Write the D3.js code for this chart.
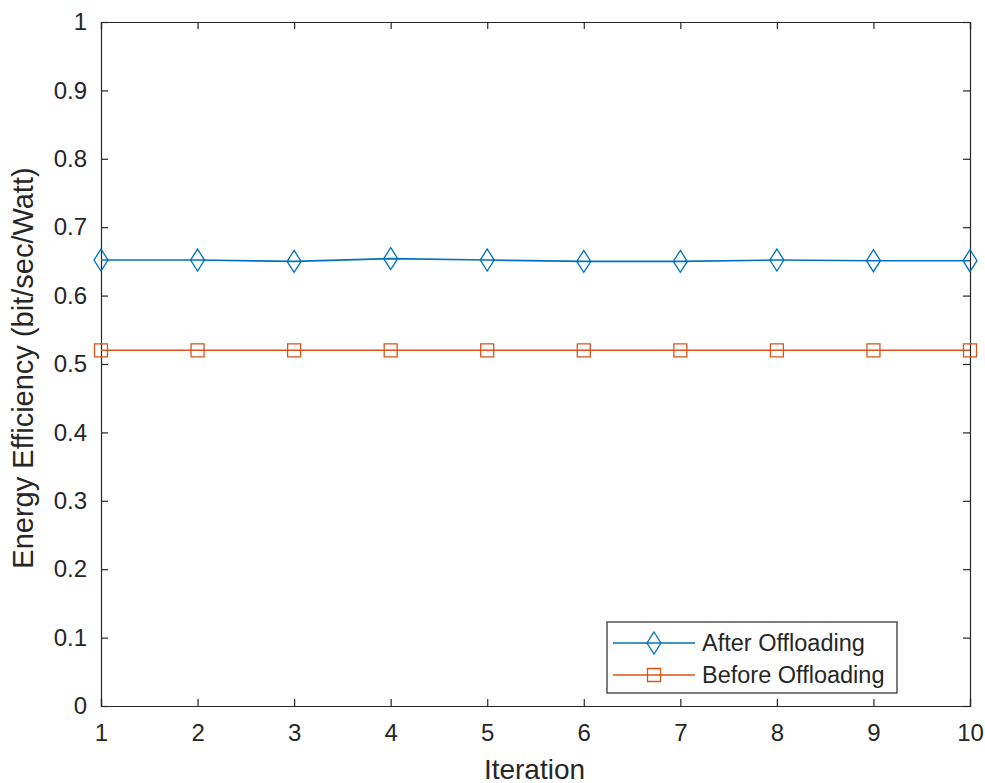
<!DOCTYPE html>
<html><head><meta charset="utf-8">
<script src="https://cdn.jsdelivr.net/npm/d3@7"></script>
<style>body{margin:0;background:#fff;} text{font-family:Arial,"Liberation Sans",sans-serif;fill:#262626;}</style>
</head><body>
<svg id="c" width="985" height="783"></svg>
<script>
const iterations = [1,2,3,4,5,6,7,8,9,10];
const afterOffloading = [0.652,0.652,0.650,0.654,0.652,0.650,0.650,0.652,0.651,0.651];
const beforeOffloading = [0.52,0.52,0.52,0.52,0.52,0.52,0.52,0.52,0.52,0.52];
const yTicks = [0,0.1,0.2,0.3,0.4,0.5,0.6,0.7,0.8,0.9,1];
const yTickLabels = ["0","0.1","0.2","0.3","0.4","0.5","0.6","0.7","0.8","0.9","1"];
const seriesNames = ["After Offloading","Before Offloading"];

const L=101, R=970, T=22, B=706;
const svg = d3.select("#c");
const x = d3.scaleLinear().domain([1,10]).range([L,R]);
const y = d3.scaleLinear().domain([0,1]).range([B,T]);
const axCol="#262626", tickLen=7;
const blue="#0072BD", orange="#D95319";

// axes
const gx = svg.append("g").attr("transform",`translate(0,${B})`)
  .call(d3.axisBottom(x).tickValues(iterations).tickSize(-tickLen).tickPadding(14).tickFormat(d3.format("d")));
const gxt = svg.append("g").attr("transform",`translate(0,${T})`)
  .call(d3.axisTop(x).tickValues(iterations).tickSize(-tickLen).tickFormat(""));
const gy = svg.append("g").attr("transform",`translate(${L},0)`)
  .call(d3.axisLeft(y).tickValues(yTicks).tickSize(-tickLen).tickPadding(14).tickFormat((d,i)=>yTickLabels[i]));
const gyr = svg.append("g").attr("transform",`translate(${R},0)`)
  .call(d3.axisRight(y).tickValues(yTicks).tickSize(-tickLen).tickFormat(""));
[gx,gxt,gy,gyr].forEach(g=>{
  g.select(".domain").attr("stroke",axCol).attr("stroke-width",1.2);
  g.selectAll(".tick line").attr("stroke",axCol).attr("stroke-width",1.2);
  g.selectAll(".tick text").attr("font-size",24).attr("fill","#262626").style("font-family","Arial,'Liberation Sans',sans-serif");
});
gx.selectAll(".tick text").attr("dy","0.71em").attr("y",18);

// lines
const line = d3.line().x((d,i)=>x(iterations[i])).y(d=>y(d));
svg.append("path").datum(afterOffloading).attr("d",line).attr("fill","none").attr("stroke",blue).attr("stroke-width",1.6);
svg.append("path").datum(beforeOffloading).attr("d",line).attr("fill","none").attr("stroke",orange).attr("stroke-width",1.6);

function diamond(cx,cy){return `M${cx},${cy-11}L${cx+7},${cy}L${cx},${cy+11}L${cx-7},${cy}Z`;}
function square(cx,cy){return `M${cx-6.5},${cy-6.5}h13v13h-13Z`;}
svg.append("g").selectAll("path").data(afterOffloading).join("path")
  .attr("d",(d,i)=>diamond(x(iterations[i]),y(d))).attr("fill","none").attr("stroke",blue).attr("stroke-width",1.3);
svg.append("g").selectAll("path").data(beforeOffloading).join("path")
  .attr("d",(d,i)=>square(x(iterations[i]),y(d))).attr("fill","none").attr("stroke",orange).attr("stroke-width",1.3);

// axis labels
svg.append("text").attr("x",(L+R)/2-1).attr("y",779).attr("text-anchor","middle").attr("font-size",28).text("Iteration");
svg.append("text").attr("transform",`translate(33,${(T+B)/2+4}) rotate(-90)`).attr("text-anchor","middle").attr("font-size",29).text("Energy Efficiency (bit/sec/Watt)");

// legend
const lg = svg.append("g");
lg.append("rect").attr("x",607).attr("y",622).attr("width",290).attr("height",71).attr("fill","#fff").attr("stroke",axCol).attr("stroke-width",1.2);
const rows=[{n:seriesNames[0],c:blue,m:diamond,y:643},{n:seriesNames[1],c:orange,m:square,y:675}];
rows.forEach(r=>{
  lg.append("line").attr("x1",613).attr("x2",695).attr("y1",r.y).attr("y2",r.y).attr("stroke",r.c).attr("stroke-width",1.6);
  lg.append("path").attr("d",r.m(654,r.y)).attr("fill","none").attr("stroke",r.c).attr("stroke-width",1.3);
  lg.append("text").attr("x",702).attr("y",r.y+8).attr("font-size",23.5).text(r.n);
});
</script>
</body></html>
